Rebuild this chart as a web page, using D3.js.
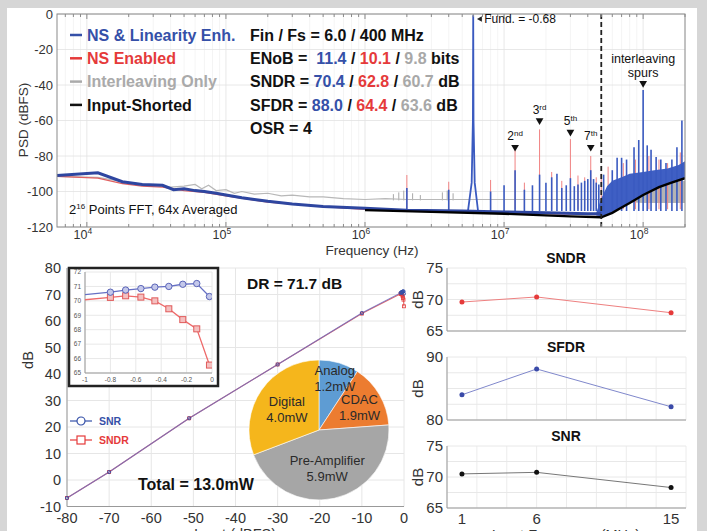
<!DOCTYPE html>
<html>
<head>
<meta charset="utf-8">
<script src="https://cdn.jsdelivr.net/npm/d3@7"></script>
<style>
body { margin: 0; background: #d6d6d6; }
svg { display: block; font-family: "Liberation Sans", Arial, sans-serif; }
</style>
</head>
<body>
<svg id="chart" width="707" height="531"></svg>
<script>
// ---------- PSD data ----------
var decades = [1e4, 1e5, 1e6, 1e7, 1e8];
var decadeExp = ["4", "5", "6", "7", "8"];
var psdTicks = [0, -20, -40, -60, -80, -100, -120];

var grayF  = [6.1e3, 1.2e4, 2e4, 3e4, 4e4, 5e4, 6e4, 6.7e4, 7.5e4, 8.5e4, 1e5, 1.15e5, 1.3e5, 1.6e5, 2e5, 2.5e5, 3e5, 4e5, 5e5, 7e5, 1e6, 1.4e6, 2e6, 5e6, 1e7, 2e7, 5e7];
var grayDb = [-91.5, -92, -95, -96.5, -97.5, -97, -96, -98.5, -96.5, -99.5, -99, -101, -100, -101.5, -101, -102.5, -102, -103, -103, -104, -104.5, -104, -104.5, -104.5, -104.5, -104.5, -104.5];
var graySpurF  = [1.6e6, 1.75e6, 1.9e6, 2.2e6, 2.5e6, 3.6e6, 3.9e6, 4.3e6];
var graySpurDb = [-101.5, -100.5, -99.5, -101, -102, -100.5, -99.5, -101];
var grayBandF   = [5e7, 6e7, 7e7, 8e7, 1e8, 1.3e8, 1.6e8, 2e8];
var grayBandTop = [-104, -101, -98.5, -97, -95.5, -95, -94.5, -94];
var grayBandBot = [-105.5, -106, -106, -106, -106.5, -106.5, -106.5, -106.5];

var redF  = [6.1e3, 1.2e4, 1.8e4, 2.5e4, 3.5e4, 5e4, 7e4, 1e5, 2e5, 5e5, 1e6, 5e6, 1e7, 5e7];
var redDb = [-91.5, -92.5, -95.5, -97, -97.5, -99.5, -100.5, -102.5, -106, -108.5, -110, -111.5, -112, -113];
var redSpurMHz = [2, 4, 8, 12, 14, 18, 22, 26, 30, 34, 38, 42, 46, 50, 56, 72, 88, 110, 130, 150, 185];
var redSpurDb  = [-90.7, -94.5, -93.5, -75.5, -95, -65, -89, -94, -70.5, -91, -92, -80, -92, -90, -86, -84, -82, -80, -82, -84, -78];

var blueF  = [6.1e3, 1.2e4, 1.8e4, 2.5e4, 3.5e4, 4.2e4, 5e4, 6e4, 7e4, 8.5e4, 1e5, 1.3e5, 1.6e5, 2e5, 3e5, 5e5, 1e6, 2e6, 5e6, 1e7, 2e7, 4e7, 5e7];
var blueDb = [-91, -89.5, -94.5, -96, -96.5, -99, -98.5, -99.5, -100, -101, -102, -103.5, -104.5, -105.5, -107, -108.5, -109.5, -110.5, -111, -111.5, -112, -112.5, -112.5];
var blueSpurMHz = [2, 4, 8, 10, 12, 14, 16, 18, 20, 22, 24, 26, 28, 30, 32, 34, 36, 38, 40, 42, 44, 46, 48, 52, 60, 65, 70, 76, 86, 93, 100, 107, 114, 124, 134, 146, 161, 175, 190];
var blueSpurDb  = [-98, -99, -100, -96.5, -88, -99, -96.5, -90.5, -95, -92, -90, -98, -96.5, -92.5, -97, -96, -95, -94, -93, -88, -93, -95, -96, -90.5, -88, -81, -81, -82, -75, -71, -42.8, -74, -76.5, -80.5, -82, -84, -82, -75, -60];
var fundF  = [5.5e6, 5.85e6, 5.97e6, 6e6, 6.03e6, 6.15e6, 6.5e6];
var fundDb = [-111, -95, -60, -0.68, -60, -95, -111];
var fuzzF   = [4.6e7, 5e7, 5.5e7, 6e7, 7e7, 8e7, 1e8, 1.2e8, 1.5e8, 1.8e8, 2e8];
var fuzzTop = [-112, -104, -97, -94, -92, -90, -89, -88, -87, -85, -83];
var fuzzBot = [-113.5, -114, -113, -111.5, -109, -106.5, -102, -99, -96, -94, -93];

var blackF  = [1e6, 3e6, 1e7, 3e7, 5e7, 6e7, 7e7, 8e7, 1e8, 1.3e8, 1.6e8, 2e8];
var blackDb = [-110.5, -111.5, -112.5, -114, -114.5, -112, -109, -106.5, -102, -97.5, -95, -92.5];

var harmF   = [12e6, 18e6, 30e6, 42e6];
var harmDb  = [-75, -60, -66.5, -75];
var harmNum = ["2", "3", "5", "7"];
var harmSup = ["nd", "rd", "th", "th"];
var bandEdge = 50e6;

// ---------- dynamic range data ----------
var inputDb = [-80, -70, -51, -30, -10, -0.8, -0.68, -0.56, -0.45, -0.34, -0.23, -0.12, -0.02];
var snrDb   = [-6.8, 3.0, 23.3, 43.6, 63, 70.6, 70.75, 70.85, 70.95, 71.0, 71.15, 71.2, 70.3];
var sndrDb  = [-6.8, 3.0, 23.3, 43.6, 62.8, 70.24, 70.35, 70.26, 70.0, 69.45, 68.7, 68.06, 65.55];

// ---------- power breakdown ----------
var powerNames  = ["Analog", "CDAC", "Pre-Amplifier", "Digital"];
var powerMw     = [1.2, 1.9, 5.9, 4.0];
var powerColors = ["#5e9cd3", "#ec7c30", "#a6a6a6", "#f5b61c"];

// ---------- vs input frequency ----------
var inFreq = [1, 6, 15];
var sndrF  = [69.6, 70.4, 67.9];
var sfdrF  = [84.0, 88.1, 82.1];
var snrF   = [70.5, 70.75, 68.3];

var BLUE = "#3550a8", RED = "#e53a3a", GRAY = "#a8a8a8";

var svg = d3.select("#chart");
svg.append("rect").attr("width", 707).attr("height", 531).attr("fill", "#d6d6d6");
svg.append("rect").attr("x", 7).attr("y", 8).attr("width", 690).attr("height", 523).attr("fill", "#fff");

function pairs(a, b) { return a.map(function (d, i) { return [d, b[i]]; }); }

// ================= PSD =================
var xP = d3.scaleLog().domain([6100, 2e8]).range([57, 685]),
    yP = d3.scaleLinear().domain([-120, 0]).range([227, 14]);

svg.append("defs").append("clipPath").attr("id", "clipP")
    .append("rect").attr("x", 57).attr("y", 14).attr("width", 628).attr("height", 213);

var psd = svg.append("g");
var minorF = [];
for (var e = 3; e <= 8; e++) for (var m = 1; m <= 9; m++) {
    var v = m * Math.pow(10, e);
    if (v >= 6100 && v <= 2e8) minorF.push(v);
}
psd.selectAll(".vgrid").data(minorF).enter().append("line")
    .attr("x1", d => xP(d)).attr("x2", d => xP(d)).attr("y1", 14).attr("y2", 227)
    .attr("stroke", d => decades.indexOf(d) >= 0 ? "#e2e2e2" : "#f1f1f1").attr("stroke-width", 0.8);
psd.selectAll(".hgrid").data(psdTicks).enter().append("line")
    .attr("x1", 57).attr("x2", 685).attr("y1", d => yP(d)).attr("y2", d => yP(d))
    .attr("stroke", "#e2e2e2").attr("stroke-width", 0.8);

var lineP = d3.line().x(d => xP(d[0])).y(d => yP(d[1]));
var areaP = d3.area().x(d => xP(d[0])).y0(d => yP(d[2])).y1(d => yP(d[1]));
var plot = psd.append("g").attr("clip-path", "url(#clipP)");

// interleaving only
plot.append("path").datum(grayBandF.map((f, i) => [f, grayBandTop[i], grayBandBot[i]]))
    .attr("d", areaP).attr("fill", "#b4b4b4");
plot.selectAll(".gspur").data(pairs(graySpurF, graySpurDb)).enter().append("line")
    .attr("x1", d => xP(d[0])).attr("x2", d => xP(d[0]))
    .attr("y1", yP(-105)).attr("y2", d => yP(d[1])).attr("stroke", GRAY).attr("stroke-width", 1);
plot.append("path").datum(pairs(grayF, grayDb)).attr("d", lineP)
    .attr("fill", "none").attr("stroke", "#b8b8b8").attr("stroke-width", 1.2);

// NS enabled
plot.selectAll(".rspur").data(pairs(redSpurMHz, redSpurDb)).enter().append("line")
    .attr("x1", d => xP(d[0] * 1e6)).attr("x2", d => xP(d[0] * 1e6))
    .attr("y1", yP(-110)).attr("y2", d => yP(d[1])).attr("stroke", "#f08282").attr("stroke-width", 1);
plot.append("path").datum(pairs(redF, redDb)).attr("d", lineP)
    .attr("fill", "none").attr("stroke", "#e06060").attr("stroke-width", 1.3);

// NS & linearity enhanced
plot.append("path").datum(fuzzF.map((f, i) => [f, fuzzTop[i], fuzzBot[i]]))
    .attr("d", areaP).attr("fill", "#3f5fc4");
plot.selectAll(".bspur").data(pairs(blueSpurMHz, blueSpurDb)).enter().append("line")
    .attr("x1", d => xP(d[0] * 1e6)).attr("x2", d => xP(d[0] * 1e6))
    .attr("y1", yP(-111)).attr("y2", d => yP(d[1])).attr("stroke", "#3a5ac0").attr("stroke-width", 1.6);
plot.append("path").datum(pairs(fundF, fundDb)).attr("d", lineP)
    .attr("fill", "none").attr("stroke", "#3a5ac0").attr("stroke-width", 1.8);
plot.append("path").datum(pairs(blueF, blueDb)).attr("d", lineP)
    .attr("fill", "none").attr("stroke", "#2e46a0").attr("stroke-width", 3);

// input shorted
plot.append("path").datum(pairs(blackF, blackDb)).attr("d", lineP)
    .attr("fill", "none").attr("stroke", "#000").attr("stroke-width", 2.4);

// band edge
psd.append("line").attr("x1", xP(bandEdge)).attr("x2", xP(bandEdge)).attr("y1", 14).attr("y2", 227)
    .attr("stroke", "#222").attr("stroke-width", 1.8).attr("stroke-dasharray", "5,3");

// axes box and ticks
psd.append("rect").attr("x", 57).attr("y", 14).attr("width", 628).attr("height", 213)
    .attr("fill", "none").attr("stroke", "#8a8a8a").attr("stroke-width", 1);
psd.selectAll(".tkb").data(minorF).enter().append("line")
    .attr("x1", d => xP(d)).attr("x2", d => xP(d)).attr("y1", 227)
    .attr("y2", d => 227 - (decades.indexOf(d) >= 0 ? 5 : 3)).attr("stroke", "#8a8a8a");
psd.selectAll(".tkt").data(minorF).enter().append("line")
    .attr("x1", d => xP(d)).attr("x2", d => xP(d)).attr("y1", 14)
    .attr("y2", d => 14 + (decades.indexOf(d) >= 0 ? 5 : 3)).attr("stroke", "#8a8a8a");
psd.selectAll(".ylab").data(psdTicks).enter().append("text")
    .attr("x", 53).attr("y", d => yP(d) + 4.5).attr("text-anchor", "end")
    .attr("font-size", 13).attr("fill", "#333").text(d => d);
var xl = psd.selectAll(".xlab").data(decades).enter().append("text")
    .attr("x", d => xP(d) - 4).attr("y", 239).attr("text-anchor", "middle")
    .attr("font-size", 12.5).attr("fill", "#333");
xl.append("tspan").text("10");
xl.append("tspan").attr("dy", -5).attr("font-size", 8.5).text((d, i) => decadeExp[i]);
psd.append("text").attr("x", 372).attr("y", 255).attr("text-anchor", "middle")
    .attr("font-size", 13.5).attr("fill", "#333").text("Frequency (Hz)");
psd.append("text").attr("transform", "translate(28,120) rotate(-90)").attr("text-anchor", "middle")
    .attr("font-size", 13.5).attr("fill", "#333").text("PSD (dBFS)");

// legend
var legNames = ["NS & Linearity Enh.", "NS Enabled", "Interleaving Only", "Input-Shorted"];
var legColors = [BLUE, RED, "#aaaaaa", "#111"];
var leg = psd.selectAll(".leg").data(legNames).enter().append("g")
    .attr("transform", (d, i) => "translate(0," + (35 + i * 23.3) + ")");
leg.append("line").attr("x1", 70).attr("x2", 82).attr("stroke", (d, i) => legColors[i]).attr("stroke-width", 2.5);
leg.append("text").attr("x", 87).attr("y", 5.6).attr("font-size", 16).attr("font-weight", "bold")
    .attr("fill", (d, i) => legColors[i]).text(d => d);

// figures of merit
var fom = [
    [["Fin / Fs = 6.0 / 400 MHz", "#111"]],
    [["ENoB =  ", "#111"], ["11.4", BLUE], [" / ", "#111"], ["10.1", RED], [" / ", "#111"], ["9.8", GRAY], [" bits", "#111"]],
    [["SNDR = ", "#111"], ["70.4", BLUE], [" / ", "#111"], ["62.8", RED], [" / ", "#111"], ["60.7", GRAY], [" dB", "#111"]],
    [["SFDR = ", "#111"], ["88.0", BLUE], [" / ", "#111"], ["64.4", RED], [" / ", "#111"], ["63.6", GRAY], [" dB", "#111"]],
    [["OSR = 4", "#111"]]
];
fom.forEach(function (row, i) {
    var t = psd.append("text").attr("x", 250).attr("y", 40.6 + i * 23.3)
        .attr("font-size", 16).attr("font-weight", "bold").attr("xml:space", "preserve");
    row.forEach(function (p) { t.append("tspan").attr("fill", p[1]).text(p[0]); });
});

var ft = psd.append("text").attr("x", 69).attr("y", 214).attr("font-size", 13).attr("fill", "#111");
ft.append("tspan").text("2");
ft.append("tspan").attr("dy", -5).attr("font-size", 8).text("16");
ft.append("tspan").attr("dy", 5).text(" Points FFT, 64x Averaged");

// fundamental note
psd.append("path").attr("d", d3.symbol(d3.symbolTriangle, 14)())
    .attr("transform", "translate(" + (xP(6e6) + 7) + ",19) rotate(-90)").attr("fill", "#222");
psd.append("text").attr("x", xP(6e6) + 11).attr("y", 23).attr("font-size", 12).attr("fill", "#111")
    .text("Fund. = -0.68");

// harmonic markers
var hm = psd.selectAll(".harm").data(harmF).enter().append("g")
    .attr("transform", (d, i) => "translate(" + xP(d) + "," + yP(harmDb[i]) + ")");
hm.append("path").attr("d", d3.symbol(d3.symbolTriangle, 26)()).attr("transform", "rotate(180)").attr("fill", "#111");
var ht = hm.append("text").attr("y", -7).attr("text-anchor", "middle").attr("font-size", 12).attr("fill", "#111");
ht.append("tspan").text((d, i) => harmNum[i]);
ht.append("tspan").attr("dy", -4).attr("font-size", 8).text((d, i) => harmSup[i]);

var il = psd.append("g").attr("transform", "translate(" + xP(1e8) + "," + yP(-39) + ")");
il.append("path").attr("d", d3.symbol(d3.symbolTriangle, 26)()).attr("transform", "rotate(180)").attr("fill", "#111");
il.append("text").attr("y", -20).attr("text-anchor", "middle").attr("font-size", 12.5).attr("fill", "#111").text("interleaving");
il.append("text").attr("y", -6).attr("text-anchor", "middle").attr("font-size", 12.5).attr("fill", "#111").text("spurs");

// ================= SNR / SNDR vs input =================
var xL = d3.scaleLinear().domain([-80, 0]).range([67, 404]),
    yL = d3.scaleLinear().domain([-10, 80]).range([506.5, 268]);
var dr = svg.append("g");
var xLt = d3.range(-80, 1, 10), yLt = d3.range(-10, 81, 10);
dr.selectAll(".gx").data(xLt).enter().append("line")
    .attr("x1", d => xL(d)).attr("x2", d => xL(d)).attr("y1", 268).attr("y2", 506.5).attr("stroke", "#e6e6e6");
dr.selectAll(".gy").data(yLt).enter().append("line")
    .attr("x1", 67).attr("x2", 404).attr("y1", d => yL(d)).attr("y2", d => yL(d)).attr("stroke", "#e6e6e6");
dr.append("line").attr("x1", 67).attr("x2", 67).attr("y1", 268).attr("y2", 506.5).attr("stroke", "#999");
dr.append("line").attr("x1", 67).attr("x2", 404).attr("y1", 506.5).attr("y2", 506.5).attr("stroke", "#999");
dr.selectAll(".lx").data(xLt).enter().append("text")
    .attr("x", d => xL(d)).attr("y", 523).attr("text-anchor", "middle").attr("font-size", 14.5).attr("fill", "#333").text(d => d);
dr.selectAll(".ly").data(yLt).enter().append("text")
    .attr("x", 61).attr("y", d => yL(d) + 5).attr("text-anchor", "end").attr("font-size", 14.5).attr("fill", "#333").text(d => d);
dr.append("text").attr("x", 235).attr("y", 539).attr("text-anchor", "middle").attr("font-size", 14.5).attr("fill", "#333").text("Input (dBFS)");
dr.append("text").attr("transform", "translate(33,360) rotate(-90)").attr("text-anchor", "middle")
    .attr("font-size", 14.5).attr("fill", "#333").text("dB");

var lineL = d3.line().x(d => xL(d[0])).y(d => yL(d[1]));
dr.append("path").datum(pairs(inputDb, sndrDb)).attr("d", lineL).attr("fill", "none").attr("stroke", "#e56a6a").attr("stroke-width", 1.1);
dr.append("path").datum(pairs(inputDb, snrDb)).attr("d", lineL).attr("fill", "none").attr("stroke", "#6a6ac0").attr("stroke-width", 1.1).attr("opacity", 0.8);
dr.selectAll(".ms").data(pairs(inputDb, sndrDb)).enter().append("rect")
    .attr("x", d => xL(d[0]) - 1.5).attr("y", d => yL(d[1]) - 1.5).attr("width", 3).attr("height", 3)
    .attr("fill", "none").attr("stroke", RED).attr("stroke-width", 0.8);
dr.selectAll(".mc").data(pairs(inputDb, snrDb)).enter().append("circle")
    .attr("cx", d => xL(d[0])).attr("cy", d => yL(d[1])).attr("r", 1.6)
    .attr("fill", "none").attr("stroke", BLUE).attr("stroke-width", 0.9);

// legend
var lg = dr.selectAll(".lg").data(["SNR", "SNDR"]).enter().append("g")
    .attr("transform", (d, i) => "translate(0," + (421 + i * 19) + ")");
lg.append("line").attr("x1", 70).attr("x2", 92).attr("stroke", (d, i) => i ? RED : BLUE).attr("stroke-width", 1.2);
lg.filter((d, i) => i == 0).append("circle").attr("cx", 81).attr("r", 4).attr("fill", "#fff").attr("stroke", BLUE).attr("stroke-width", 1.2);
lg.filter((d, i) => i == 1).append("rect").attr("x", 77).attr("y", -4).attr("width", 8).attr("height", 8).attr("fill", "#fff").attr("stroke", RED).attr("stroke-width", 1.2);
lg.append("text").attr("x", 99).attr("y", 4).attr("font-size", 10.5).attr("font-weight", "bold")
    .attr("fill", (d, i) => i ? RED : BLUE).text(d => d);

dr.append("text").attr("x", 247).attr("y", 289).attr("font-size", 15.5).attr("font-weight", "bold").attr("fill", "#111").text("DR = 71.7 dB");
dr.append("text").attr("x", 138).attr("y", 490).attr("font-size", 16).attr("font-weight", "bold").attr("fill", "#111").text("Total = 13.0mW");

// inset
var xI = d3.scaleLinear().domain([-1, 0]).range([85, 212]),
    yI = d3.scaleLinear().domain([65, 72]).range([373, 272]);
var ins = svg.append("g");
ins.append("rect").attr("x", 69).attr("y", 268).attr("width", 149).attr("height", 118)
    .attr("fill", "#fff").attr("stroke", "#222").attr("stroke-width", 2.5);
var xIt = [-1, -0.8, -0.6, -0.4, -0.2, 0], yIt = d3.range(65, 73, 1);
ins.selectAll(".gx").data(xIt).enter().append("line")
    .attr("x1", d => xI(d)).attr("x2", d => xI(d)).attr("y1", 272).attr("y2", 373).attr("stroke", "#e8e8e8");
ins.selectAll(".gy").data(yIt).enter().append("line")
    .attr("x1", 85).attr("x2", 212).attr("y1", d => yI(d)).attr("y2", d => yI(d)).attr("stroke", "#e8e8e8");
ins.append("line").attr("x1", 85).attr("x2", 85).attr("y1", 272).attr("y2", 373).attr("stroke", "#999");
ins.append("line").attr("x1", 85).attr("x2", 212).attr("y1", 373).attr("y2", 373).attr("stroke", "#999");
ins.selectAll(".lx").data(xIt).enter().append("text")
    .attr("x", d => xI(d)).attr("y", 382).attr("text-anchor", "middle").attr("font-size", 6.5).attr("fill", "#555").text(d => d);
ins.selectAll(".ly").data(yIt).enter().append("text")
    .attr("x", 81).attr("y", d => yI(d) + 2.3).attr("text-anchor", "end").attr("font-size", 6.5).attr("fill", "#555").text(d => d);
var lineI = d3.line().x(d => xI(d[0])).y(d => yI(d[1]));
ins.append("clipPath").attr("id", "clipI").append("rect").attr("x", 85).attr("y", 272).attr("width", 127).attr("height", 101);
var ip = ins.append("g").attr("clip-path", "url(#clipI)");
ip.append("path").datum(pairs(inputDb, sndrDb)).attr("d", lineI).attr("fill", "none").attr("stroke", "#ee6a6a").attr("stroke-width", 1.3);
ip.append("path").datum(pairs(inputDb, snrDb)).attr("d", lineI).attr("fill", "none").attr("stroke", "#6670c4").attr("stroke-width", 1.3);
ip.selectAll(".ms").data(pairs(inputDb, sndrDb).filter(d => d[0] > -1)).enter().append("rect")
    .attr("x", d => xI(d[0]) - 3).attr("y", d => yI(d[1]) - 3).attr("width", 6).attr("height", 6)
    .attr("fill", "#f4c0c0").attr("stroke", "#e05a5a").attr("stroke-width", 1);
ip.selectAll(".mc").data(pairs(inputDb, snrDb).filter(d => d[0] > -1)).enter().append("circle")
    .attr("cx", d => xI(d[0])).attr("cy", d => yI(d[1])).attr("r", 3.2)
    .attr("fill", "#c4c8ea").attr("stroke", "#5a64b8").attr("stroke-width", 1);

// pie
var pie = d3.pie().sort(null).value(d => d)(powerMw);
var arc = d3.arc().innerRadius(0).outerRadius(70);
var labelR = [55, 47, 38, 39];
var pg = svg.append("g").attr("transform", "translate(319,430)");
pg.selectAll("path").data(pie).enter().append("path").attr("d", arc)
    .attr("fill", (d, i) => powerColors[i]).attr("stroke", "#fff").attr("stroke-width", 0.6);
var pl = pg.selectAll(".pl").data(pie).enter().append("text")
    .attr("transform", function (d, i) {
        var c = d3.arc().innerRadius(labelR[i]).outerRadius(labelR[i]).centroid(d);
        return "translate(" + c[0] + "," + c[1] + ")";
    })
    .attr("text-anchor", "middle").attr("font-size", 13).attr("fill", "#2a2a2a");
pl.append("tspan").attr("x", 0).attr("y", -2).text((d, i) => powerNames[i]);
pl.append("tspan").attr("x", 0).attr("y", 14).text((d, i) => powerMw[i].toFixed(1) + "mW");

// ================= vs input frequency =================
var xR = d3.scaleLinear().domain([0, 16]).range([447, 686]);
var subs = [
    { title: "SNDR", vals: sndrF, dom: [65, 75], rng: [331, 268], ticks: [65, 70, 75], col: RED, line: "#ee8080" },
    { title: "SFDR", vals: sfdrF, dom: [80, 90], rng: [420, 357], ticks: [80, 90], col: "#3a4aa8", line: "#8088cc" },
    { title: "SNR", vals: snrF, dom: [65, 75], rng: [508, 446], ticks: [65, 70, 75], col: "#111", line: "#777" }
];
subs.forEach(function (s) {
    var y = d3.scaleLinear().domain(s.dom).range(s.rng);
    var g = svg.append("g");
    var gy = d3.range(s.dom[0], s.dom[1] + 0.1, 2.5);
    g.selectAll(".gx").data(d3.range(0, 17, 2)).enter().append("line")
        .attr("x1", d => xR(d)).attr("x2", d => xR(d)).attr("y1", s.rng[1]).attr("y2", s.rng[0]).attr("stroke", "#ececec");
    g.selectAll(".gy").data(gy).enter().append("line")
        .attr("x1", 447).attr("x2", 686).attr("y1", d => y(d)).attr("y2", d => y(d)).attr("stroke", "#e8e8e8");
    g.append("line").attr("x1", 447).attr("x2", 447).attr("y1", s.rng[1]).attr("y2", s.rng[0]).attr("stroke", "#999");
    g.append("line").attr("x1", 447).attr("x2", 686).attr("y1", s.rng[0]).attr("y2", s.rng[0]).attr("stroke", "#999");
    g.selectAll(".ly").data(s.ticks).enter().append("text")
        .attr("x", 443).attr("y", d => y(d) + 5).attr("text-anchor", "end").attr("font-size", 15).attr("fill", "#333").text(d => d);
    g.append("text").attr("transform", "translate(" + 423 + "," + ((s.rng[0] + s.rng[1]) / 2) + ") rotate(-90)")
        .attr("text-anchor", "middle").attr("font-size", 15).attr("fill", "#333").text("dB");
    g.append("text").attr("x", 566).attr("y", s.rng[1] - 5).attr("text-anchor", "middle")
        .attr("font-size", 14).attr("font-weight", "bold").attr("fill", "#111").text(s.title);
    g.append("path").datum(pairs(inFreq, s.vals))
        .attr("d", d3.line().x(d => xR(d[0])).y(d => y(d[1])))
        .attr("fill", "none").attr("stroke", s.line).attr("stroke-width", 1);
    g.selectAll("circle").data(pairs(inFreq, s.vals)).enter().append("circle")
        .attr("cx", d => xR(d[0])).attr("cy", d => y(d[1])).attr("r", 2.5).attr("fill", s.col);
});
svg.selectAll(".fx").data(inFreq).enter().append("text")
    .attr("x", d => xR(d)).attr("y", 524).attr("text-anchor", "middle").attr("font-size", 15).attr("fill", "#333").text(d => d);
svg.append("text").attr("x", 566).attr("y", 540).attr("text-anchor", "middle").attr("font-size", 14.5).attr("fill", "#333").text("Input Frequency (MHz)");
</script>
</body>
</html>
